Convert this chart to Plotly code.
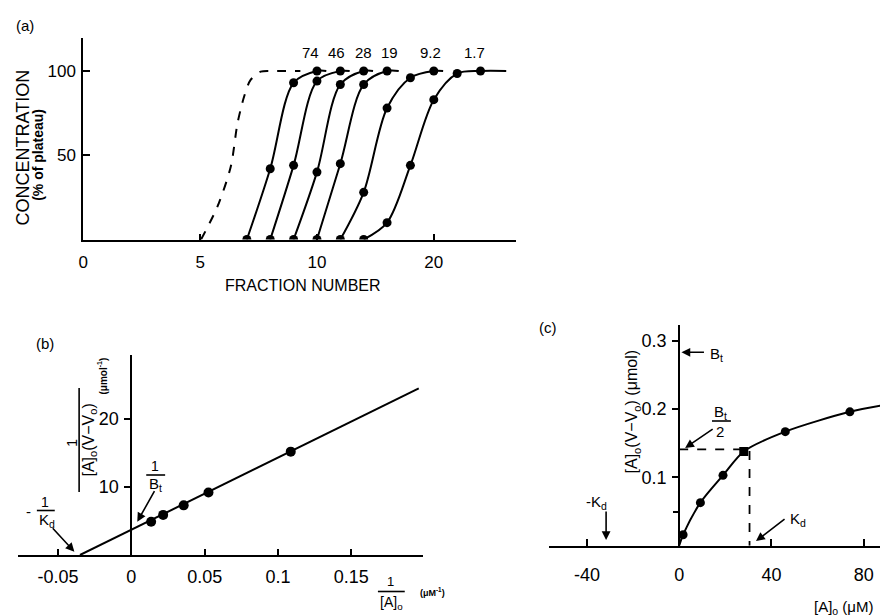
import plotly.graph_objects as go

# Page body adds a margin around the figure; the figure is sized to fill the rest of the window.
OFFX, OFFY = 11, 8
W, H = 888 - OFFX, 616 - OFFY
FONT = "Liberation Sans"

# ---------------- Panel (a) data ----------------
frac_tickvals = [0, 5, 10, 15]
frac_ticktext = ["0", "5", "10", "20"]
conc_tickvals = [50, 100]
conc_ticktext = ["50", "100"]

curve_labels = ["74", "46", "28", "19", "9.2", "1.7"]
curve_label_x = [9.71, 10.85, 11.98, 13.09, 14.85, 16.74]
curve_label_y = 110.7

fx_74 = [7, 8, 9, 10]
fy_74 = [0, 42, 93, 100]
fx_46 = [8, 9, 10, 11]
fy_46 = [0, 44, 94, 100]
fx_28 = [9, 10, 11, 12]
fy_28 = [0, 40, 92, 100]
fx_19 = [10, 11, 12, 13]
fy_19 = [0, 45, 92, 100]
fx_9_2 = [11, 12, 13, 14, 15]
fy_9_2 = [0, 28, 78, 96, 100]
fx_1_7 = [12, 13, 14, 15, 16, 17]
fy_1_7 = [0, 10, 44, 83, 98.5, 100]
plateau_end_x = [10.4, 11.4, 12.4, 13.5, 15.4, 18.1]

void_x = [5.04, 5.74, 6.31, 6.60, 6.88, 7.16, 7.59, 8.15, 9.29]
void_y = [0, 19.5, 43.2, 69, 84.7, 94.7, 99.6, 100, 100]

# ---------------- Panel (b) data ----------------
inv_conc = [0.0135, 0.0217, 0.0357, 0.0526, 0.1087]
inv_bound = [4.9, 5.9, 7.3, 9.2, 15.2]
fit_b_x = [-0.035, 0.196]
fit_b_y = [0, 24.5]
b_xtickvals = [-0.05, 0, 0.05, 0.1, 0.15]
b_xticktext = ["-0.05", "0", "0.05", "0.1", "0.15"]
b_ytickvals = [10, 20]

# ---------------- Panel (c) data ----------------
conc_c = [1.7, 9.2, 19, 28, 46, 74]
bound_c = [0.016, 0.063, 0.103, 0.138, 0.167, 0.196]
curve_c_x = [0, 1.7, 9.2, 19, 28, 46, 74, 89.2]
curve_c_y = [0, 0.016, 0.063, 0.103, 0.138, 0.167, 0.196, 0.206]
kd_c = 30.5
half_bt_c = 0.141
c_xtickvals = [-40, 0, 40, 80]
c_xticktext = ["-40", "0", "40", "80"]
c_ytickvals = [0.1, 0.2, 0.3]
c_yminor = [0.05]


def xp(x):
    return (x - OFFX) / W


def yp(y):
    return 1 - (y - OFFY) / H


# pixel geometry (window pixels) of the three plotting frames
A = dict(x0=81.7, x1=516.7, ux=23.5, y0=239.5, y1=38.3, uy=1.685)
B = dict(x0=16.0, x1=423.0, zx=130.0, ux=1475.0, y0=555.0, y1=355.0, uy=6.8)
C = dict(x0=550.0, x1=888.0, zx=681.0, ux=2.32, y0=545.7, y1=325.0, uy=683.0)

fig = go.Figure()
black = "black"

# Panel (a) traces
series_a = [(fx_74, fy_74), (fx_46, fy_46), (fx_28, fy_28),
            (fx_19, fy_19), (fx_9_2, fy_9_2), (fx_1_7, fy_1_7)]
for (xs, ys), xe in zip(series_a, plateau_end_x):
    fig.add_trace(go.Scatter(x=xs + [xe], y=ys + [100], mode="lines",
                             line=dict(color=black, width=2, shape="spline", smoothing=0.9),
                             xaxis="x", yaxis="y", showlegend=False, hoverinfo="skip"))
    fig.add_trace(go.Scatter(x=xs, y=ys, mode="markers",
                             marker=dict(color=black, size=9),
                             xaxis="x", yaxis="y", showlegend=False))
fig.add_trace(go.Scatter(x=void_x, y=void_y, mode="lines",
                         line=dict(color=black, width=2, dash="dash", shape="spline", smoothing=0.8),
                         xaxis="x", yaxis="y", showlegend=False))

# Panel (b) traces
fig.add_trace(go.Scatter(x=fit_b_x, y=fit_b_y, mode="lines",
                         line=dict(color=black, width=2),
                         xaxis="x2", yaxis="y2", showlegend=False))
fig.add_trace(go.Scatter(x=inv_conc, y=inv_bound, mode="markers",
                         marker=dict(color=black, size=10),
                         xaxis="x2", yaxis="y2", showlegend=False))

# Panel (c) traces
fig.add_trace(go.Scatter(x=curve_c_x, y=curve_c_y, mode="lines",
                         line=dict(color=black, width=2, shape="spline", smoothing=0.8),
                         xaxis="x3", yaxis="y3", showlegend=False))
fig.add_trace(go.Scatter(x=conc_c, y=bound_c, mode="markers",
                         marker=dict(color=black, size=9,
                                     symbol=["circle", "circle", "circle", "square", "circle", "circle"]),
                         xaxis="x3", yaxis="y3", showlegend=False))
fig.add_trace(go.Scatter(x=[0, kd_c, kd_c], y=[half_bt_c, half_bt_c, 0], mode="lines",
                         line=dict(color=black, width=1.8, dash="dash"),
                         xaxis="x3", yaxis="y3", showlegend=False))

tickfont_a = dict(family=FONT, size=17, color=black)
tickfont_b = dict(family=FONT, size=18, color=black)

axis_common = dict(showgrid=False, zeroline=False, showline=True, linecolor=black,
                   linewidth=2, tickcolor=black, tickwidth=2)

fig.update_layout(
    width=W, height=H, margin=dict(l=0, r=0, t=0, b=0),
    paper_bgcolor="white", plot_bgcolor="rgba(0,0,0,0)",
    showlegend=False,
    xaxis=dict(axis_common, domain=[xp(A["x0"]), xp(A["x1"])],
               range=[0, (A["x1"] - A["x0"]) / A["ux"]], anchor="y",
               tickvals=frac_tickvals, ticktext=frac_ticktext, ticks="inside", ticklen=6,
               tickfont=tickfont_a, ticklabelstandoff=6),
    yaxis=dict(axis_common, domain=[yp(A["y0"]), yp(A["y1"])],
               range=[0, (A["y0"] - A["y1"]) / A["uy"]], anchor="x",
               tickvals=conc_tickvals, ticktext=conc_ticktext, ticks="inside", ticklen=7,
               tickfont=tickfont_a, ticklabelstandoff=2),
    xaxis2=dict(axis_common, domain=[xp(B["x0"]), xp(B["x1"])],
                range=[(B["x0"] - B["zx"]) / B["ux"], (B["x1"] - B["zx"]) / B["ux"]],
                anchor="y2", tickvals=b_xtickvals, ticktext=b_xticktext,
                ticks="inside", ticklen=6, tickfont=tickfont_b, ticklabelstandoff=4),
    yaxis2=dict(axis_common, domain=[yp(B["y0"]), yp(B["y1"])],
                range=[0, (B["y0"] - B["y1"]) / B["uy"]], anchor="free",
                position=xp(B["zx"]), tickvals=b_ytickvals, ticks="outside", ticklen=6,
                tickfont=tickfont_b, ticklabelstandoff=2),
    xaxis3=dict(axis_common, domain=[xp(C["x0"]), 1.0],
                range=[(C["x0"] - C["zx"]) / C["ux"], (C["x1"] - C["zx"]) / C["ux"]],
                anchor="y3", tickvals=c_xtickvals, ticktext=c_xticktext,
                ticks="inside", ticklen=7, tickfont=tickfont_b, ticklabelstandoff=12),
    yaxis3=dict(axis_common, domain=[yp(C["y0"]), yp(C["y1"])],
                range=[0, (C["y0"] - C["y1"]) / C["uy"]], anchor="free",
                position=xp(C["zx"]), tickvals=c_ytickvals,
                ticks="outside", ticklen=6, tickfont=tickfont_b, ticklabelstandoff=2,
                minor=dict(tickvals=c_yminor, ticks="outside", ticklen=5,
                           tickcolor=black, tickwidth=2)),
)

ann = []


def text(x, y, s, size=15, angle=0, bold=False):
    if bold:
        s = "<b>" + s + "</b>"
    ann.append(dict(x=xp(x), y=yp(y), xref="paper", yref="paper", text=s, showarrow=False,
                    xanchor="center", yanchor="middle", textangle=angle,
                    font=dict(family=FONT, size=size, color=black)))


shapes = []


def seg(x0, y0, x1, y1):
    shapes.append(dict(type="line", xref="paper", yref="paper",
                       x0=xp(x0), x1=xp(x1), y0=yp(y0), y1=yp(y1),
                       line=dict(color=black, width=1.6)))


# Panel (a) texts
text(23, 25, "(a)", 15)
text(21.5, 147, "CONCENTRATION", 18, -90)
text(36, 155, "(% of plateau)", 14, -90, bold=True)
text(302.5, 285, "FRACTION NUMBER", 16)
for lab, lx in zip(curve_labels, curve_label_x):
    ann.append(dict(x=lx, y=curve_label_y, xref="x", yref="y", text=lab, showarrow=False,
                    xanchor="center", yanchor="middle",
                    font=dict(family=FONT, size=15, color=black)))

# Panel (b) texts
text(43, 343, "(b)", 15)
text(70, 443, "1", 14, -90)
seg(77.5, 388, 77.5, 492)
text(87, 440, "[A]<sub>o</sub>(V\u2212V<sub>o</sub>)", 16, -90)
text(101, 376, "(\u03bcmol<sup>-1</sup>)", 10, -90, bold=True)
text(27, 511, "-", 15)
text(43.5, 502, "1", 14)
seg(35, 510.5, 53, 510.5)
text(45, 520, "K<sub>d</sub>", 15)
text(154, 466, "1", 14)
seg(145, 475, 164, 475)
text(154, 484, "B<sub>t</sub>", 15)
text(391, 581, "1", 13)
seg(378, 591.5, 405, 591.5)
text(392, 603, "[A]<sub>o</sub>", 14)
text(433, 592, "(\u03bcM<sup>-1</sup>)", 9, bold=True)

# Panel (c) texts
text(549, 327, "(c)", 15)
text(634, 412, "[A]<sub>o</sub>(V\u2212V<sub>o</sub>) (\u03bcmol)", 16, -90)
text(719, 354, "B<sub>t</sub>", 15)
text(723, 412, "B<sub>t</sub>", 15)
seg(714, 421, 733, 421)
text(722, 432, "2", 15)
text(598, 502, "-K<sub>d</sub>", 15)
text(801, 519, "K<sub>d</sub>", 15)
text(846, 607, "[A]<sub>o</sub> (\u03bcM)", 15)


def arrow(xref, yref, x, y, ax, ay):
    ann.append(dict(x=x, y=y, xref=xref, yref=yref, ax=ax, ay=ay, axref="pixel", ayref="pixel",
                    showarrow=True, arrowhead=2, arrowsize=1.1, arrowwidth=1.6,
                    arrowcolor=black, text=""))


# (b) arrows: tips in data coordinates
arrow("x2", "y2", (72.7 - B["zx"]) / B["ux"], (B["y0"] - 551.7) / B["uy"], -23, -25)
arrow("x2", "y2", (136 - B["zx"]) / B["ux"], (B["y0"] - 521.7) / B["uy"], 18, -32)
# (c) arrows
arrow("x3", "y3", (683.3 - C["zx"]) / C["ux"], (C["y0"] - 352.3) / C["uy"], 24, 0)
arrow("x3", "y3", (687 - C["zx"]) / C["ux"], (C["y0"] - 448) / C["uy"], 29, -20)
arrow("x3", "y3", (607.5 - C["zx"]) / C["ux"], (C["y0"] - 540) / C["uy"], 0, -30)
arrow("x3", "y3", (758.3 - C["zx"]) / C["ux"], (C["y0"] - 541) / C["uy"], 30, -23)

fig.update_layout(annotations=ann, shapes=shapes)
fig.write_html("out.html")
